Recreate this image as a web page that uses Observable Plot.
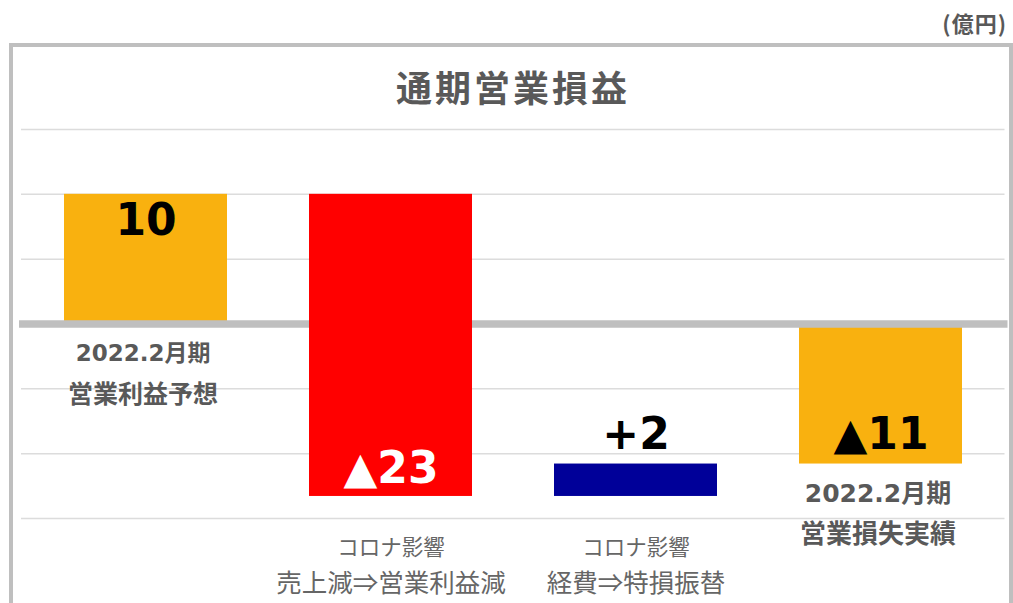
<!DOCTYPE html>
<html><head><meta charset="utf-8">
<script src="https://cdn.jsdelivr.net/npm/d3@7"></script>
<script src="https://cdn.jsdelivr.net/npm/@observablehq/plot@0.6"></script>
<style>
html,body{margin:0;padding:0;background:#fff;overflow:hidden}
#wrap{position:relative;width:1013px;height:603px;overflow:hidden;font-family:"Noto Sans CJK JP",sans-serif}
#frame{position:absolute;left:9px;top:43px;width:1004px;height:640px;border:4px solid #bfbfbf;box-sizing:border-box}
#title{position:absolute;left:0;width:1026px;top:65px;text-align:center;font-size:36px;font-weight:700;color:#595959;letter-spacing:3px;line-height:42px}
#unit{position:absolute;right:6px;top:9px;font-size:22px;font-weight:700;color:#595959;line-height:26px;letter-spacing:1px}
#chart{position:absolute;left:0;top:0}
</style></head><body>
<div id="wrap"><div id="frame"></div><div id="unit">(億円)</div><div id="title">通期営業損益</div><div id="chart"></div></div>
<script>
const categories = ["forecast", "salesDrop", "expenseShift", "actual"];
const kinds = ["total", "delta", "delta", "total"];
const values = [10.0, -23.3, 2.5, -10.8];
const valueLabels = ["10", "▲23", "+2", "▲11"];
const labelLine1 = ["2022.2月期", "コロナ影響", "コロナ影響", "2022.2月期"];
const labelLine2 = ["営業利益予想", "売上減⇒営業利益減", "経費⇒特損振替", "営業損失実績"];
const barColors = ["#F9B10F", "#FF0000", "#000099", "#F9B10F"];
const gridValues = [15, 10, 5, -5, -10, -15];
const yDomain = [-15, 15];

let run = 0;
const rows = categories.map((key, i) => {
  let y1, y2;
  if (kinds[i] === "total") { y1 = 0; y2 = values[i]; run = values[i]; }
  else { y1 = run; y2 = run + values[i]; run = y2; }
  return {key, i, kind: kinds[i], y1, y2, top: Math.max(y1, y2), bottom: Math.min(y1, y2),
          color: barColors[i], vl: valueLabels[i], l1: labelLine1[i], l2: labelLine2[i], v: values[i]};
});

const marks = [
  Plot.ruleY(gridValues, {stroke: "#dcdcdc", strokeWidth: 1.5}),
  Plot.barY(rows.filter(d => d.kind === "total" || d.v > 0), {x: "key", y1: "y1", y2: "y2", fill: "color"}),
  Plot.ruleY([0], {stroke: "#bfbfbf", strokeWidth: 7.5, insetLeft: -2, insetRight: -3}),
  Plot.barY(rows.filter(d => d.kind === "delta" && d.v < 0), {x: "key", y1: "y1", y2: "y2", fill: "color"})
];

for (const d of rows) {
  // value label
  let vy, vdy, vfill;
  if (d.kind === "total" && d.v > 0) { vy = d.top; vdy = 27; vfill = "#000"; }
  else if (d.kind === "delta" && d.v > 0) { vy = d.top; vdy = -29; vfill = "#000"; }
  else if (d.kind === "delta") { vy = d.bottom; vdy = -28; vfill = "#fff"; }
  else { vy = d.bottom; vdy = -29; vfill = "#000"; }
  marks.push(Plot.text([d], {x: "key", y: () => vy, text: "vl", dy: vdy, fill: vfill,
    fontFamily: "DejaVu Sans", fontWeight: "bold", fontSize: 44}));
  // category labels
  if (d.kind === "total") {
    const big = d.v < 0;
    marks.push(Plot.text([d], {x: "key", y: "bottom", text: "l1", dy: 30, dx: -3, fill: "#595959",
      fontFamily: "DejaVu Sans, Noto Sans CJK JP", fontWeight: "bold", fontSize: big ? 25 : 23}));
    marks.push(Plot.text([d], {x: "key", y: "bottom", text: "l2", dy: 71, dx: -3, fill: "#595959",
      fontFamily: "Noto Sans CJK JP", fontWeight: "bold", fontSize: big ? 26 : 25}));
  } else {
    marks.push(Plot.text([d], {x: "key", y: () => yDomain[0], text: "l1", dy: 30, fill: "#666",
      fontFamily: "Noto Sans CJK JP", fontWeight: 400, fontSize: 21.5}));
    marks.push(Plot.text([d], {x: "key", y: () => yDomain[0], text: "l2", dy: 65, fill: "#666",
      fontFamily: "Noto Sans CJK JP", fontWeight: 400, fontSize: 25.5}));
  }
}

const chart = Plot.plot({
  width: 1013,
  height: 603,
  marginLeft: 21,
  marginRight: 8.5,
  marginTop: 129,
  marginBottom: 85,
  style: {background: "transparent", overflow: "visible"},
  x: {axis: null, domain: categories, paddingInner: 0.333, paddingOuter: 0.1667},
  y: {axis: null, domain: yDomain},
  color: {type: "identity"},
  marks
});
document.getElementById("chart").appendChild(chart);
</script>
</body></html>
